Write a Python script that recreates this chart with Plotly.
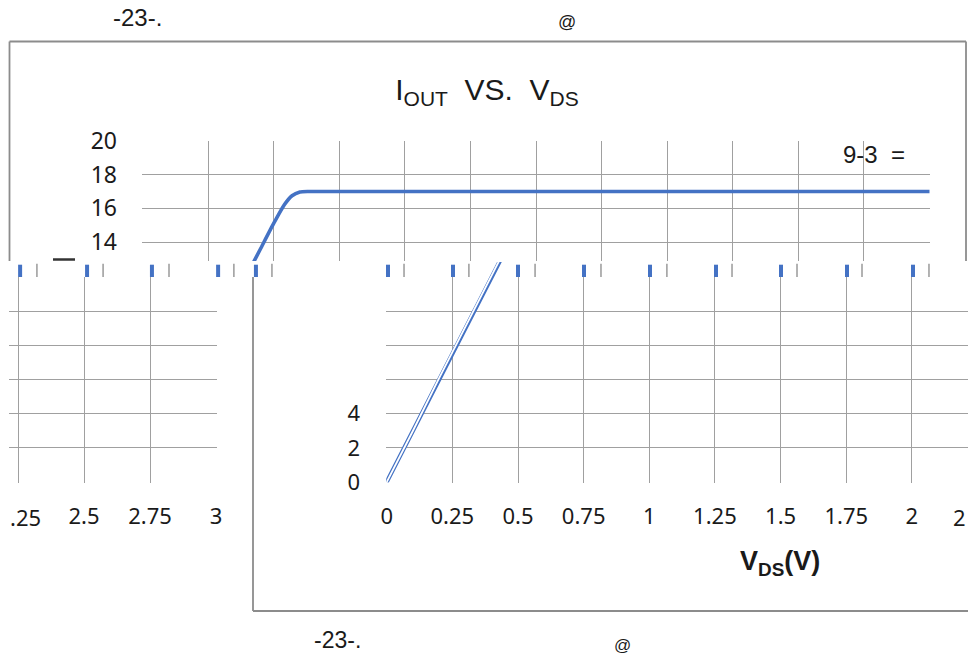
import plotly.graph_objects as go

W, H = 968, 660

# ---- data: output current (mA) versus drain-source voltage (V) ----
vds = [0, 0.1, 0.2, 0.3, 0.4, 0.45, 0.5, 0.54, 0.57, 0.6, 0.63, 0.7, 1.0, 1.5, 2.0, 2.5, 3.0]
iout = [0, 3.0, 6.1, 9.1, 12.1, 13.6, 15.1, 16.2, 16.75, 16.97, 17.0, 17.0, 17.0, 17.0, 17.0, 17.0, 17.0]

top_y_ticks = [14, 16, 18, 20]
top_x_grid = [i * 0.25 for i in range(13)]
low_y_grid = [0, 2, 4, 6, 8, 10, 12]
low_y_labels = [0, 2, 4]
right_x_ticks = [0, 0.25, 0.5, 0.75, 1, 1.25, 1.5, 1.75, 2]
right_x_text = ["0", "0.25", "0.5", "0.75", "1", "1.25", "1.5", "1.75", "2"]
left_x_grid = [2.25, 2.5, 2.75, 3]
left_x_ticks = [2.5, 2.75, 3]
left_x_text = ["2.5", "2.75", "3"]

# glitch strip marks (in volts of the lower-right scale)
strip_blue_marks = [-1.396, -1.141, -0.894, -0.642, -0.498, 0.005, 0.2525, 0.5, 0.7513,
                    1.0027, 1.254, 1.5016, 1.7529, 2.0042]
strip_gray_ticks = [-1.332, -1.080, -0.829, -0.582, -0.437, 0.066, 0.313, 0.565, 0.816,
                    1.067, 1.315, 1.5625, 1.810, 2.065]

BLUE = "#4472C4"
GRID = "#a0a0a0"
BORDER = "#8c8c8c"
TXT = "#1a1a1a"
TICKFONT = "Noto Sans"
NARROW = "Liberation Sans Narrow, Arial Narrow, Liberation Sans"
ARIAL = "Liberation Sans, Arial"


def fx(px):
    return px / W


def fy(py):
    return 1 - py / H


fig = go.Figure()

# top panel (x, y)
fig.add_trace(go.Scatter(x=vds, y=iout, mode="lines", xaxis="x", yaxis="y",
                         line=dict(color=BLUE, width=3.6, shape="spline", smoothing=0.5),
                         hoverinfo="skip"))
# lower right panel (x2, y2) - hollow double line
for col, wd in ((BLUE, 4.2), ("white", 1.8)):
    fig.add_trace(go.Scatter(x=vds, y=iout, mode="lines", xaxis="x2", yaxis="y2",
                             line=dict(color=col, width=wd), hoverinfo="skip"))
# strip (x4, y4): continuation of the lower-right line and glitch marks
for col, wd in ((BLUE, 4.2), ("white", 1.8)):
    fig.add_trace(go.Scatter(x=vds, y=iout, mode="lines", xaxis="x4", yaxis="y4",
                             line=dict(color=col, width=wd), hoverinfo="skip"))
fig.add_trace(go.Scatter(x=strip_gray_ticks, y=[12.37] * len(strip_gray_ticks), mode="markers",
                         xaxis="x4", yaxis="y4", hoverinfo="skip",
                         marker=dict(symbol="line-ns", size=10, line=dict(color=GRID, width=1.6))))
fig.add_trace(go.Scatter(x=strip_blue_marks, y=[12.31] * len(strip_blue_marks), mode="markers",
                         xaxis="x4", yaxis="y4", hoverinfo="skip",
                         marker=dict(symbol="line-ns", size=10, line=dict(color=BLUE, width=4))))
# lower left panel (x3, y3) - grid, plus label-only x axis (x6)
fig.add_trace(go.Scatter(x=[2.5], y=[-5], mode="markers", xaxis="x3", yaxis="y3",
                         marker=dict(opacity=0), hoverinfo="skip"))
fig.add_trace(go.Scatter(x=[2.5], y=[-5], mode="markers", xaxis="x6", yaxis="y3",
                         marker=dict(opacity=0), hoverinfo="skip"))
# label-only axis over the lower right panel
fig.add_trace(go.Scatter(x=[1], y=[-5], mode="markers", xaxis="x2", yaxis="y5",
                         marker=dict(opacity=0), hoverinfo="skip"))

base = dict(showline=False, zeroline=False, ticks="", automargin=False, fixedrange=True,
            tickfont=dict(family=TICKFONT, size=22, color=TXT))
common = dict(base, gridcolor=GRID, gridwidth=1.3, showgrid=True)

px_top = (929.5 - 142.5) / 3.0
py_top = (242 - 141) / 6.0
py_low = (482 - 277) / 12.0
px_low = 262.6
px_left = (216 - 18) / 0.75
low_y_range = [-0.5 / py_low, 12 + 0.5 / py_low]
left_range = [2.25 - 9 / px_left, 3 + 1 / px_left]

fig.update_layout(
    template="none",
    width=W, height=H, autosize=False,
    margin=dict(l=0, r=0, t=0, b=0, pad=0, autoexpand=False),
    paper_bgcolor="white", plot_bgcolor="white",
    showlegend=False,
    title=dict(text="I<sub>OUT</sub>  VS.  V<sub>DS</sub>", x=fx(487), y=fy(89),
               xanchor="center", yanchor="middle", automargin=False,
               font=dict(family=ARIAL, size=30, color=TXT)),
    xaxis=dict(domain=[fx(142), fx(930)], range=[-0.5 / px_top, 3 + 0.5 / px_top],
               tickvals=top_x_grid, showticklabels=False, anchor="y", **common),
    yaxis=dict(domain=[fy(261), fy(140.5)], range=[20 - 120 / py_top, 20 + 0.5 / py_top],
               tickvals=top_y_ticks, anchor="x", ticklabelstandoff=24,
               **{**common, "tickfont": dict(family=TICKFONT, size=23, color=TXT)}),
    xaxis2=dict(domain=[fx(386.2), 1.0], range=[-0.5 / px_low, (968 - 386.7) / px_low],
                tickvals=right_x_ticks, ticktext=right_x_text, anchor="y2",
                ticklabelstandoff=18, **common),
    yaxis2=dict(domain=[fy(482.5), fy(276.5)], range=low_y_range,
                tickvals=low_y_grid, showticklabels=False, anchor="x2", **common),
    yaxis5=dict(domain=[fy(482.5), fy(276.5)], range=low_y_range, overlaying="y2",
                tickvals=low_y_labels, showgrid=False, anchor="x2",
                ticklabelstandoff=25, **base),
    xaxis3=dict(domain=[fx(9), fx(217)], range=left_range,
                tickvals=left_x_grid, showticklabels=False, anchor="y3", **common),
    xaxis6=dict(domain=[fx(9), fx(217)], range=left_range, overlaying="x3",
                tickvals=left_x_ticks, ticktext=left_x_text, anchor="y3", showgrid=False,
                ticklabelstandoff=18, **base),
    yaxis3=dict(domain=[fy(482.5), fy(276.5)], range=low_y_range,
                tickvals=low_y_grid, showticklabels=False, anchor="x3", **common),
    xaxis4=dict(domain=[0, 1], range=[-386.7 / px_low, (968 - 386.7) / px_low],
                showgrid=False, showticklabels=False, anchor="y4", **base),
    yaxis4=dict(domain=[fy(277), fy(262)], range=[12, 12 + 15 / py_low],
                showgrid=False, showticklabels=False, anchor="x4", **base),
)

# frame lines of the chart areas
frame = [
    (9.5, 41.5, 966, 41.5), (9.5, 41.5, 9.5, 261), (966, 41.5, 966, 261),
    (253, 277, 253, 611), (253, 611, 968, 611),
]
for x0, y0, x1, y1 in frame:
    fig.add_shape(type="line", xref="paper", yref="paper", x0=fx(x0), y0=fy(y0), x1=fx(x1), y1=fy(y1),
                  line=dict(color=BORDER, width=1.8), layer="above")
fig.add_shape(type="line", xref="paper", yref="paper", x0=fx(53), y0=fy(259.5), x1=fx(75), y1=fy(259.5),
              line=dict(color="#333333", width=2.5), layer="above")

texts = [
    ("-23-.", 137, 17, ARIAL, 24),
    ("@", 567, 22, ARIAL, 18),
    ("9-3  =", 874, 154, ARIAL, 24),
    ("-23-.", 337, 640, NARROW, 23),
    ("@", 622, 645, ARIAL, 17),
    ("<b>V<sub>DS</sub>(V)</b>", 780, 563, NARROW, 27),
    ("2", 959, 517, TICKFONT, 22),
    (".25", 25, 517, TICKFONT, 22),
]
for t, x, y, fam, sz in texts:
    fig.add_annotation(text=t, xref="paper", yref="paper", x=fx(x), y=fy(y),
                       xanchor="center", yanchor="middle", showarrow=False,
                       font=dict(family=fam, size=sz, color=TXT))

fig.write_html("out.html", config={"displayModeBar": False},
               post_script="document.body.style.margin='0px';")
